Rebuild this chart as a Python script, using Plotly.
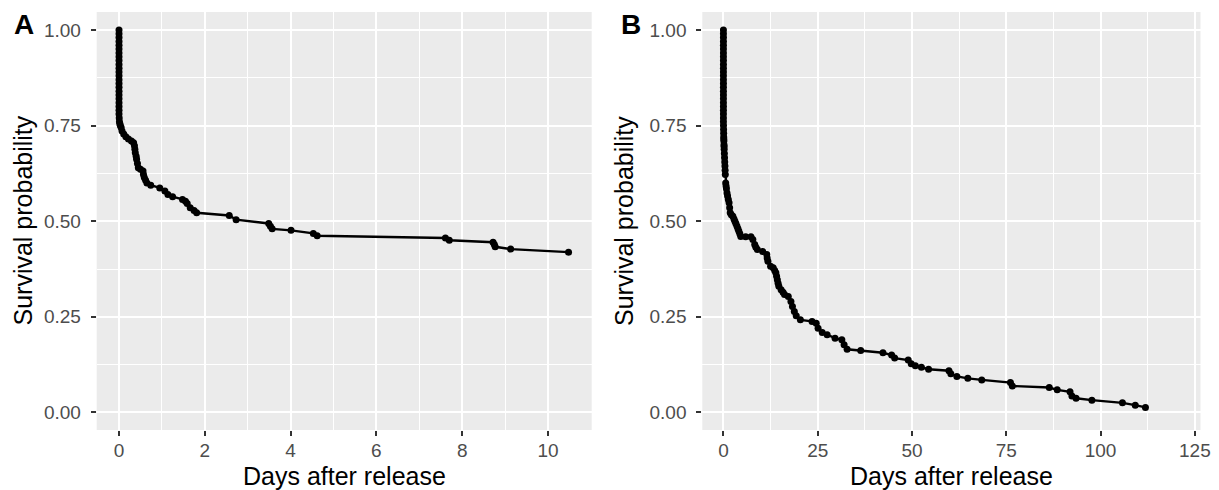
import plotly.graph_objects as go
from plotly.subplots import make_subplots

# ---- Panel A data (days after release, survival probability) ----
a_days = [0.0, 0.0, 0.0, 0.0, 0.0, 0.0, 0.0, 0.0, 0.0, 0.0,
          0.0, 0.0, 0.0, 0.0, 0.0, 0.0, 0.0, 0.0, 0.0, 0.0,
          0.0, 0.0, 0.0, 0.005, 0.01, 0.02, 0.03, 0.05,
          0.07, 0.11, 0.16, 0.22, 0.29, 0.34, 0.36, 0.37, 0.38, 0.40, 0.41, 0.43,
          0.45, 0.50, 0.56, 0.57, 0.59, 0.62, 0.65, 0.74, 0.95, 1.07, 1.14, 1.25,
          1.48, 1.55, 1.59, 1.66, 1.75, 1.81, 2.57, 2.73, 3.49, 3.53, 3.57, 4.01,
          4.53, 4.62, 7.61, 7.70, 8.72, 8.75, 8.77, 9.13, 10.48]
a_surv = [1.0, 0.99, 0.98, 0.97, 0.96, 0.95, 0.94, 0.93, 0.92, 0.91,
          0.90, 0.89, 0.88, 0.87, 0.86, 0.85, 0.84, 0.83, 0.82, 0.81,
          0.80, 0.79, 0.78, 0.77, 0.76, 0.755, 0.75, 0.745,
          0.736, 0.728, 0.721, 0.715, 0.71, 0.705, 0.697, 0.688, 0.679, 0.670,
          0.662, 0.651, 0.64, 0.636, 0.631, 0.622, 0.614, 0.607, 0.60, 0.594,
          0.587, 0.579, 0.57, 0.564, 0.557, 0.552, 0.546, 0.535, 0.528, 0.522,
          0.515, 0.504, 0.494, 0.487, 0.48, 0.476, 0.468, 0.462, 0.456, 0.45,
          0.445, 0.439, 0.433, 0.427, 0.419]

# ---- Panel B data ----
b_days = [0.0, 0.0, 0.0, 0.0, 0.0, 0.0, 0.0, 0.0, 0.0, 0.0,
          0.0, 0.0, 0.0, 0.0, 0.0, 0.0, 0.0, 0.0, 0.0, 0.0,
          0.0, 0.0, 0.0, 0.0, 0.0, 0.02, 0.04, 0.06, 0.08, 0.1,
          0.12, 0.15, 0.18, 0.2, 0.25, 0.3, 0.35, 0.4, 0.45, 0.5, 0.6, 0.7, 0.8,
          0.95, 1.1, 1.3, 1.5, 1.65, 1.8, 2.1, 2.5, 2.8, 3.05, 3.3, 3.6, 3.85,
          4.1, 4.35, 4.6, 5.9, 7.3, 7.8, 8.3, 8.6, 9.0, 10.4, 11.5, 11.6, 11.8,
          12.5, 13.2, 13.6, 13.9, 14.1, 14.3, 14.5, 14.7, 15.3, 15.8, 16.2, 17.2,
          17.9, 18.3, 18.8, 19.3, 20.4, 23.5, 24.6, 25.1, 26.2, 27.5, 29.6,
          31.4, 32.0, 32.8, 36.4, 42.3, 44.6, 45.4, 49.0, 49.8, 50.9, 52.5, 54.4,
          59.8, 60.3, 61.9, 64.8, 68.5, 76.1, 76.6, 86.4, 88.5, 91.9, 92.4, 93.5,
          97.7, 105.8, 109.2, 111.9]
b_surv = [1.0, 0.99, 0.98, 0.97, 0.96, 0.95, 0.94, 0.93, 0.92, 0.91,
          0.90, 0.89, 0.88, 0.87, 0.86, 0.85, 0.84, 0.83, 0.82, 0.81,
          0.80, 0.79, 0.78, 0.77, 0.76, 0.75, 0.74, 0.73, 0.72, 0.715,
          0.71, 0.70, 0.695, 0.688, 0.677, 0.666, 0.655, 0.644, 0.633, 0.622,
          0.60, 0.592, 0.585, 0.574, 0.566, 0.557, 0.548, 0.535, 0.522, 0.517,
          0.513, 0.506, 0.50, 0.494, 0.487, 0.48, 0.474, 0.467, 0.46, 0.459,
          0.459, 0.452, 0.439, 0.432, 0.426, 0.421, 0.413, 0.404, 0.395, 0.382,
          0.378, 0.371, 0.365, 0.356, 0.347, 0.338, 0.33, 0.321, 0.314, 0.308,
          0.303, 0.29, 0.277, 0.264, 0.253, 0.242, 0.238, 0.233, 0.22, 0.209,
          0.203, 0.194, 0.19, 0.177, 0.165, 0.162, 0.156, 0.15, 0.142, 0.137,
          0.127, 0.122, 0.118, 0.113, 0.109, 0.101, 0.094, 0.089, 0.085, 0.078,
          0.069, 0.065, 0.059, 0.054, 0.043, 0.037, 0.032, 0.025, 0.019, 0.013]

y_ticks = [0, 0.25, 0.5, 0.75, 1.0]
y_tick_text = ["0.00", "0.25", "0.50", "0.75", "1.00"]
a_x_ticks = [0, 2, 4, 6, 8, 10]
b_x_ticks = [0, 25, 50, 75, 100, 125]
panel_labels = ["A", "B"]
x_title = "Days after release"
y_title = "Survival probability"

W, H = 1219, 490


def px(x):
    return x / W


def py(y):
    return 1 - y / H


FONT = "Liberation Sans, Arial, Helvetica, sans-serif"
BG = "#EBEBEB"
TICK_COL = "#4D4D4D"

fig = make_subplots(rows=1, cols=2)

for col, (xs, ys) in enumerate([(a_days, a_surv), (b_days, b_surv)], start=1):
    fig.add_trace(go.Scatter(x=xs, y=ys, mode="lines+markers",
                             line=dict(color="black", width=2.4),
                             marker=dict(color="black", size=7),
                             showlegend=False, hoverinfo="x+y"),
                  row=1, col=col)

ydom = [py(430), py(12)]
a_dom = [px(96.7), px(591.7)]
b_dom = [px(702.3), px(1200.5)]

common_axis = dict(showline=False, zeroline=False, ticks="outside", ticklen=5,
                   tickwidth=1.5, tickcolor="#333333", gridcolor="white", gridwidth=2,
                   tickfont=dict(family=FONT, size=19, color=TICK_COL),
                   automargin=False)

fig.update_xaxes(domain=a_dom, range=[-0.52, 11.02], tickvals=a_x_ticks,
                 ticklabelstandoff=-2,
                 minor=dict(tickvals=[1, 3, 5, 7, 9], showgrid=True,
                            gridcolor="white", gridwidth=1, ticks=""),
                 **common_axis, row=1, col=1)
fig.update_xaxes(domain=b_dom, range=[-5.6, 126.5], tickvals=b_x_ticks,
                 ticklabelstandoff=-2,
                 minor=dict(tickvals=[12.5, 37.5, 62.5, 87.5, 112.5], showgrid=True,
                            gridcolor="white", gridwidth=1, ticks=""),
                 **common_axis, row=1, col=2)
fig.update_yaxes(domain=ydom, range=[-0.046, 1.047], tickvals=y_ticks,
                 ticktext=y_tick_text, ticklabelstandoff=6,
                 minor=dict(tickvals=[0.125, 0.375, 0.625, 0.875], showgrid=True,
                            gridcolor="white", gridwidth=1, ticks=""),
                 **common_axis)

annotations = []
for dom, lab, lab_x, ytitle_x in [(a_dom, panel_labels[0], 24, 22.5),
                                  (b_dom, panel_labels[1], 630.5, 624)]:
    annotations.append(dict(text=x_title, x=(dom[0] + dom[1]) / 2, y=py(476),
                            xref="paper", yref="paper", showarrow=False,
                            xanchor="center", yanchor="middle",
                            font=dict(family=FONT, size=25, color="black")))
    annotations.append(dict(text=y_title, x=px(ytitle_x), y=(ydom[0] + ydom[1]) / 2,
                            xref="paper", yref="paper", showarrow=False, textangle=-90,
                            xanchor="center", yanchor="middle",
                            font=dict(family=FONT, size=25, color="black")))
    annotations.append(dict(text="<b>" + lab + "</b>", x=px(lab_x), y=py(25),
                            xref="paper", yref="paper", showarrow=False,
                            xanchor="center", yanchor="middle",
                            font=dict(family=FONT, size=28, color="black")))

fig.update_layout(width=W, height=H, margin=dict(l=0, r=0, t=0, b=0),
                  paper_bgcolor="white", plot_bgcolor=BG,
                  annotations=annotations, showlegend=False)

# remove the default 8 px page margin so the figure fills the window exactly
fig.write_html("out.html", config={"displayModeBar": False},
               post_script="document.body.style.margin='0';")
